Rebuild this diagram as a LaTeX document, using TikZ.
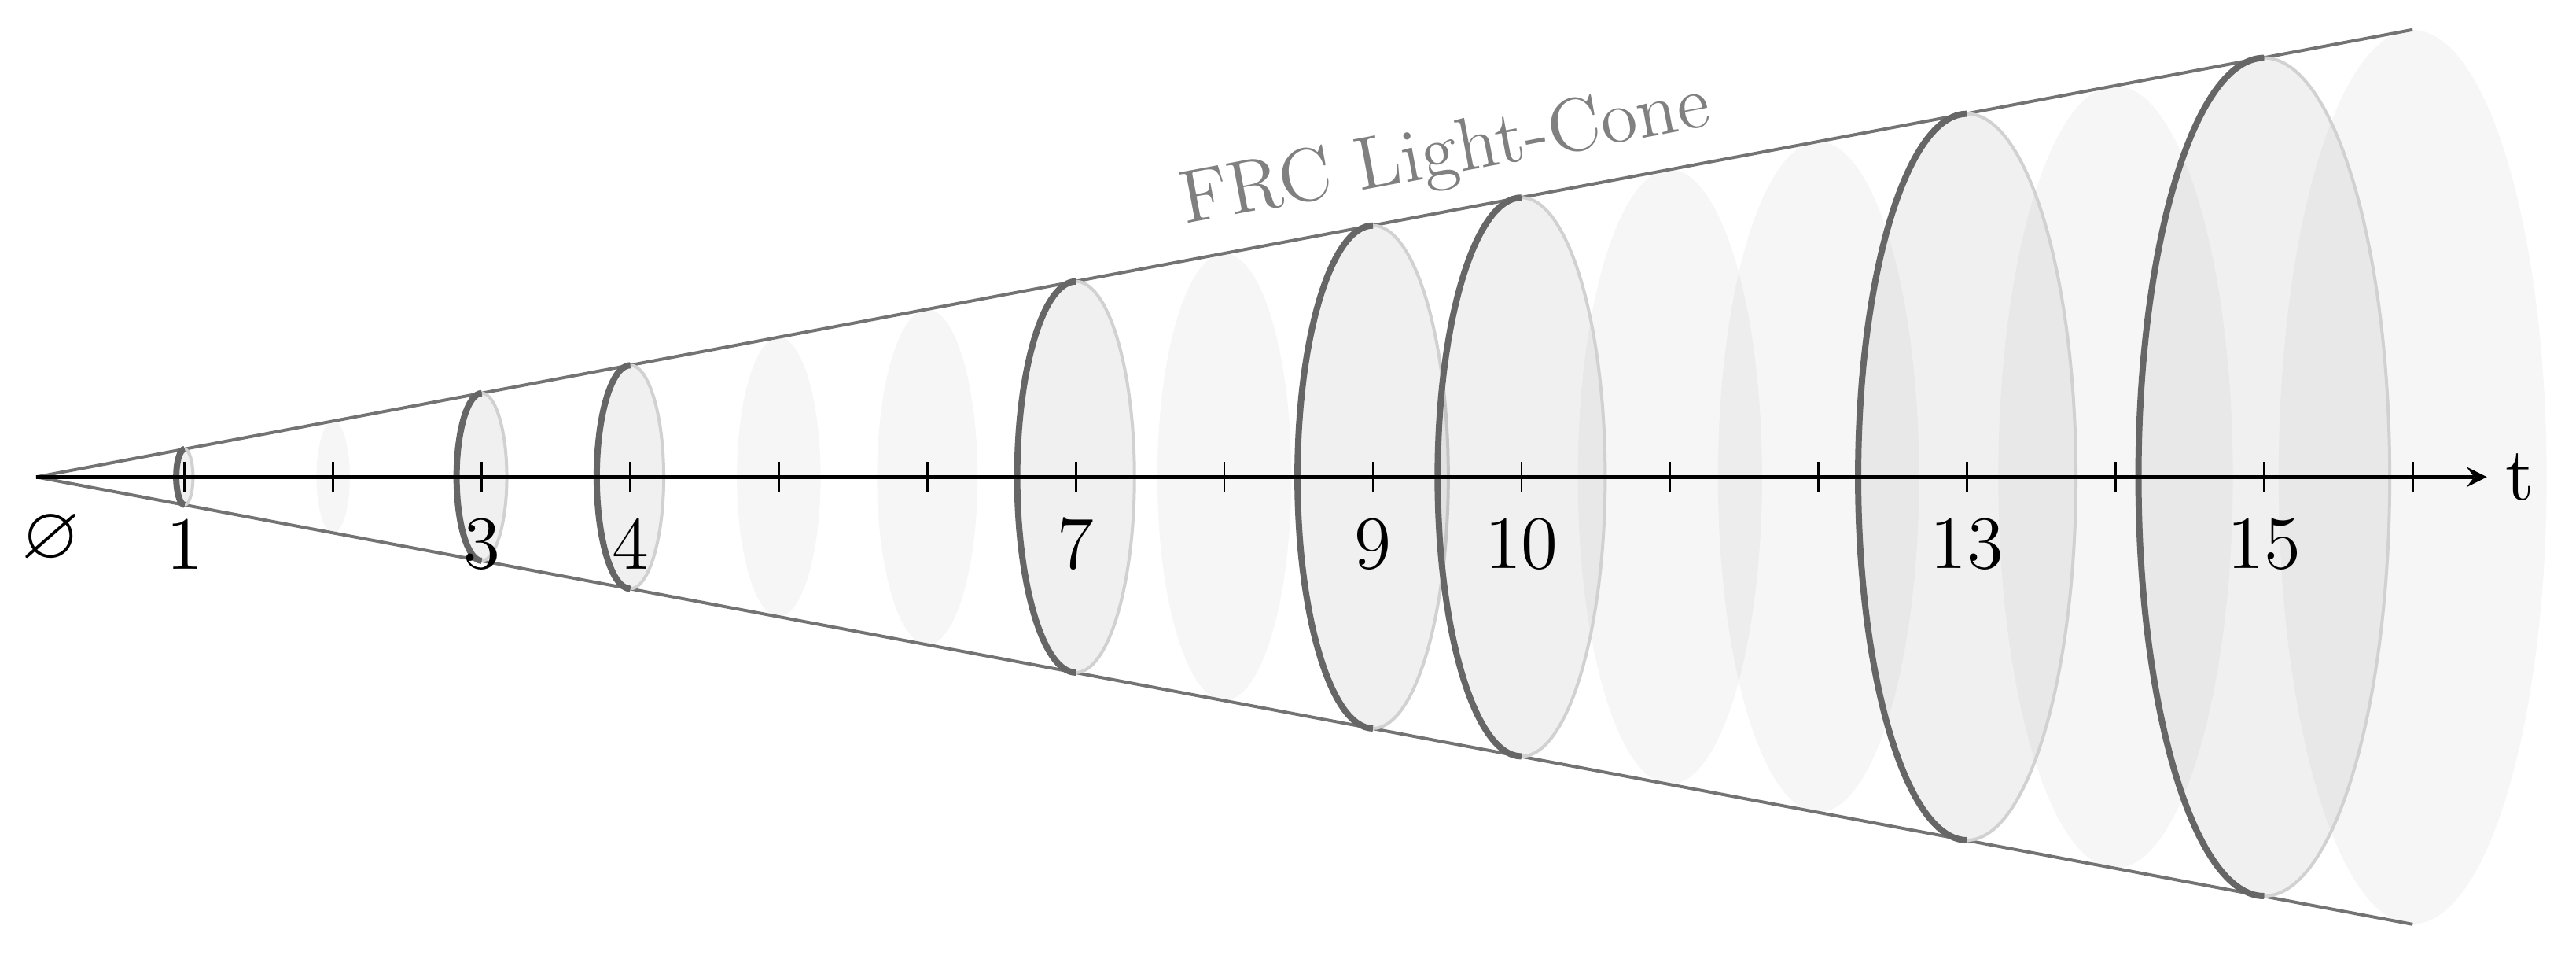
\documentclass[tikz,border=0pt]{standalone}
\usepackage{amsmath, amssymb}
\usetikzlibrary{arrows.meta}
\tikzset{>=stealth}
\tikzset{
	faint/.style = {fill = black, fill opacity = 0.035},
	slice/.style = {fill = black, fill opacity = 0.06},
	front/.style = {draw = black!60, line width = 1.2pt},
	back/.style = {draw = black!18, line width = 0.6pt}
}

\begin{document}
\begin{tikzpicture}
	\useasboundingbox (-0.243,-3.24) rectangle (17.10,3.21);
	\foreach \t in {2,5,6,8,11,12,14,16}
	\fill[faint] (\t,0) ellipse ({0.0564*\t} and {0.188*\t});
	\coordinate (o) at (0,0);
	\coordinate (top) at (16,3.01);
	\coordinate (bot) at (16,-3.01);
	\draw[black!55, line width = 0.6pt] (o) -- (top);
	\draw[black!55, line width = 0.6pt] (o) -- (bot);
	\foreach \t in {1,3,4,7,9,10,13,15} {
	\fill[slice] (\t,0) ellipse ({0.0564*\t} and {0.188*\t});
	\draw[back] (\t,{-0.188*\t}) arc (-90:90:{0.0564*\t} and {0.188*\t});
	\draw[front] (\t,{0.188*\t}) arc (90:270:{0.0564*\t} and {0.188*\t});
	}
	\node[black!50, rotate = 10.6] (cone) at (9.49,2.16) {\Large FRC Light-Cone};
	\coordinate (tend) at (16.5,0);
	\draw[->, line width = 0.7pt] (o) -- (tend);
	\node[anchor = west] (t) at (tend) {\Large t};
	\node (zero) at (0.1,-0.42) {\Large $\varnothing$};
	\foreach \x in {1,...,16}
	\draw (\x,0.1) -- (\x,-0.1);
	\foreach \x in {1,3,4,7,9,10,13,15}
	\node (l\x) at (\x,-0.45) {\Large \x};
\end{tikzpicture}
\end{document}
